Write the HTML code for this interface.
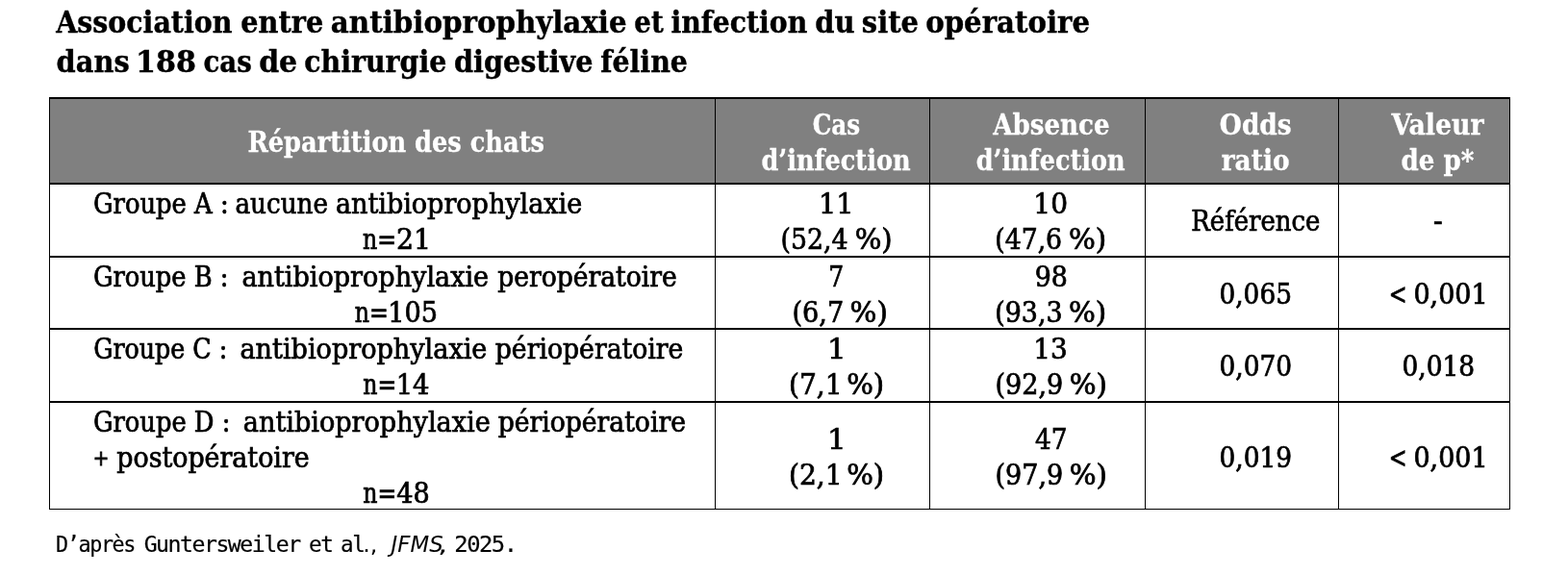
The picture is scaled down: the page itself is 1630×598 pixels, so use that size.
<!DOCTYPE html>
<html lang="fr">
<head>
<meta charset="utf-8">
<title>Association entre antibioprophylaxie et infection du site opératoire</title>
<style>
*{box-sizing:border-box;margin:0;padding:0}
html,body{width:1630px;height:598px;background:#fff;overflow:hidden}
body{position:relative;padding:101px 0 0 51px;font-family:"DejaVu Serif Condensed","DejaVu Serif","Liberation Serif",serif;font-stretch:condensed;color:#000}
table{width:1519px;border-collapse:separate;border-spacing:0;table-layout:fixed}
th,td{border-left:1px solid #000;border-top:2px solid #000;padding:0;font-weight:normal}
th{background:#808080;height:89px}
th:last-child,td:last-child{border-right:1px solid #000}
tr.ra td{height:76px} tr.rb td{height:75px} tr.rc td{height:76px}
tr.rd td{height:113px;border-bottom:1px solid #000}
.t{position:absolute;white-space:pre;line-height:40px;transform-origin:0 0;display:block}
.tt{font-weight:bold;-webkit-text-stroke:0.4px}
.th{font-weight:bold;color:#fff;-webkit-text-stroke:0.3px}
.tb,.tn{-webkit-text-stroke:0.7px}
.tp{-webkit-text-stroke:0.8px}
.tf{font-family:"DejaVu Sans Mono","Liberation Mono",monospace;font-stretch:normal;letter-spacing:-1.5px;-webkit-text-stroke:0.2px}
.tfp{font-family:"DejaVu Sans","Liberation Sans",sans-serif;font-stretch:normal}
.tfi{font-family:"DejaVu Sans","Liberation Sans",sans-serif;font-style:italic;font-stretch:normal}
h1,p{font-size:inherit;font-weight:inherit;height:0}
</style>
</head>
<body>
<h1><span id="t1a" class="t tt" style="left:58px;top:3px;font-size:32.5px;transform:translate(0.18px,0.00px) scaleX(0.9729)">Association </span><span id="t1b" class="t tt" style="left:250px;top:3px;font-size:32.5px;transform:translate(0.32px,0.00px) scaleX(0.9824)">entre </span><span id="t1c" class="t tt" style="left:343px;top:3px;font-size:32.5px;transform:translate(0.85px,0.00px) scaleX(1.0020)">antibioprophylaxie </span><span id="t1d" class="t tt" style="left:659px;top:3px;font-size:32.5px;transform:translate(0.35px,0.00px) scaleX(0.9472)">et </span><span id="t1e" class="t tt" style="left:697px;top:3px;font-size:32.5px;transform:translate(0.43px,0.00px) scaleX(0.9664)">infection </span><span id="t1f" class="t tt" style="left:847px;top:3px;font-size:32.5px;transform:translate(0.16px,0.00px) scaleX(0.9900)">du </span><span id="t1g" class="t tt" style="left:895px;top:3px;font-size:32.5px;transform:translate(0.86px,0.00px) scaleX(0.9913)">site </span><span id="t1h" class="t tt" style="left:962px;top:3px;font-size:32.5px;transform:translate(0.15px,0.00px) scaleX(0.9994)">opératoire</span>
<span id="t2a" class="t tt" style="left:58px;top:44px;font-size:32.5px;transform:translate(0.51px,0.00px) scaleX(0.9873)">dans </span><span id="t2b" class="t tt" style="left:141px;top:44px;font-size:32.5px;transform:translate(0.05px,0.00px) scaleX(1.0294)">188 </span><span id="t2c" class="t tt" style="left:211px;top:44px;font-size:32.5px;transform:translate(0.40px,0.00px) scaleX(0.9463)">cas </span><span id="t2d" class="t tt" style="left:269px;top:44px;font-size:32.5px;transform:translate(0.13px,0.00px) scaleX(1.0244)">de </span><span id="t2e" class="t tt" style="left:316px;top:44px;font-size:32.5px;transform:translate(0.23px,0.00px) scaleX(0.9714)">chirurgie </span><span id="t2f" class="t tt" style="left:472px;top:44px;font-size:32.5px;transform:translate(0.02px,0.00px) scaleX(0.9807)">digestive </span><span id="t2g" class="t tt" style="left:624px;top:44px;font-size:32.5px;transform:translate(0.27px,0.00px) scaleX(0.9715)">féline</span></h1>
<table>
<colgroup><col style="width:692px"><col style="width:223px"><col style="width:224px"><col style="width:201px"><col style="width:179px"></colgroup>
<thead><tr><th><span id="h1" class="t th" style="left:257px;top:128px;font-size:29.8px;transform:translate(0.45px,0.00px) scaleX(0.9572)">Répartition des chats</span></th><th><span id="h2a" class="t th" style="left:844px;top:110px;font-size:29.8px;transform:translate(0.71px,0.00px) scaleX(0.9212)">Cas</span>
<span id="h2b" class="t th" style="left:791px;top:147px;font-size:29.8px;transform:translate(0.39px,0.00px) scaleX(0.9544)">d’infection</span></th><th><span id="h3a" class="t th" style="left:1032px;top:110px;font-size:29.8px;transform:translate(0.19px,0.00px) scaleX(0.9750)">Absence</span>
<span id="h3b" class="t th" style="left:1014px;top:147px;font-size:29.8px;transform:translate(0.69px,0.00px) scaleX(0.9525)">d’infection</span></th><th><span id="h4a" class="t th" style="left:1267px;top:110px;font-size:29.8px;transform:translate(0.87px,0.00px) scaleX(0.9853)">Odds</span>
<span id="h4b" class="t th" style="left:1269px;top:147px;font-size:29.8px;transform:translate(0.71px,0.00px) scaleX(0.9844)">ratio</span></th><th><span id="h5a" class="t th" style="left:1446px;top:110px;font-size:29.8px;transform:translate(0.40px,0.00px) scaleX(1.0000)">Valeur</span>
<span id="h5b" class="t th" style="left:1456px;top:147px;font-size:29.8px;transform:translate(0.53px,0.00px) scaleX(0.9732)">de p*</span></th></tr></thead>
<tbody>
<tr class="ra"><td><span id="a1a1" class="t tb" style="left:96px;top:192px;font-size:29px;transform:translate(0.91px,0.00px) scaleX(0.9895)">Groupe A : </span><span id="a1a2" class="t tb" style="left:244px;top:192px;font-size:29px;transform:translate(0.49px,0.00px) scaleX(1.0053)">aucune </span><span id="a1a3" class="t tb" style="left:348px;top:192px;font-size:29px;transform:translate(0.92px,0.00px) scaleX(1.0357)">antibioprophylaxie</span>
<span id="a1b1" class="t tb" style="left:377px;top:229px;font-size:29px;transform:translate(0.10px,0.00px) scaleX(0.9049)">n=</span><span id="a1b2" class="t tn" style="left:411px;top:229px;font-size:29.6px;transform:translate(0.91px,0.00px) scaleX(1.0655)">21</span></td><td><span id="a2a" class="t tn" style="left:850px;top:192px;font-size:29.6px;transform:translate(0.92px,0.00px) scaleX(1.0782)">11</span>
<span id="a2bn" class="t tn" style="left:811px;top:229px;font-size:29.6px;transform:translate(0.54px,0.00px) scaleX(1.0030)">(52,4 </span><span id="a2bp" class="t tn" style="left:888px;top:229px;font-size:29.6px;transform:translate(0.75px,0.00px) scaleX(1.0916)">%)</span></td><td><span id="a3a" class="t tn" style="left:1074px;top:192px;font-size:29.6px;transform:translate(0.36px,0.00px) scaleX(1.0522)">10</span>
<span id="a3bn" class="t tn" style="left:1034px;top:229px;font-size:29.6px;transform:translate(0.24px,0.00px) scaleX(1.0030)">(47,6 </span><span id="a3bp" class="t tn" style="left:1110px;top:229px;font-size:29.6px;transform:translate(0.94px,0.00px) scaleX(1.0985)">%)</span></td><td><span id="a4" class="t tb" style="left:1238px;top:210px;font-size:29px;transform:translate(0.36px,0.00px) scaleX(0.9932)">Référence</span></td><td><span id="a5" class="t tb" style="left:1489px;top:210px;font-size:29px;transform:translate(0.88px,0.00px) scaleX(1.0969)">-</span></td></tr>
<tr class="rb"><td><span id="b1a1" class="t tb" style="left:96px;top:268px;font-size:29px;transform:translate(0.92px,0.00px) scaleX(0.9859)">Groupe B :  </span><span id="b1a2" class="t tb" style="left:251px;top:268px;font-size:29px;transform:translate(0.41px,0.00px) scaleX(1.0375)">antibioprophylaxie </span><span id="b1a3" class="t tb" style="left:517px;top:268px;font-size:29px;transform:translate(0.25px,0.00px) scaleX(1.0198)">peropératoire</span>
<span id="b1b1" class="t tb" style="left:368px;top:305px;font-size:29px;transform:translate(0.74px,0.00px) scaleX(0.9049)">n=</span><span id="b1b2" class="t tn" style="left:403px;top:305px;font-size:29.6px;transform:translate(0.20px,0.00px) scaleX(1.0194)">105</span></td><td><span id="b2a" class="t tn" style="left:861px;top:268px;font-size:29.6px;transform:translate(0.35px,0.00px) scaleX(0.9419)">7</span>
<span id="b2bn" class="t tn" style="left:823px;top:305px;font-size:29.6px;transform:translate(0.52px,0.00px) scaleX(1.0182)">(6,7 </span><span id="b2bp" class="t tn" style="left:883px;top:305px;font-size:29.6px;transform:translate(0.58px,0.00px) scaleX(1.0992)">%)</span></td><td><span id="b3a" class="t tn" style="left:1075px;top:268px;font-size:29.6px;transform:translate(0.75px,0.00px) scaleX(1.0096)">98</span>
<span id="b3bn" class="t tn" style="left:1034px;top:305px;font-size:29.6px;transform:translate(0.23px,0.00px) scaleX(1.0106)">(93,3 </span><span id="b3bp" class="t tn" style="left:1110px;top:305px;font-size:29.6px;transform:translate(0.94px,0.00px) scaleX(1.0985)">%)</span></td><td><span id="b4" class="t tn" style="left:1267px;top:286px;font-size:29.6px;transform:translate(0.46px,0.00px) scaleX(0.9904)">0,065</span></td><td><span id="b5a" class="t tn" style="left:1443px;top:286px;font-size:29.6px;transform:translate(0.71px,0.00px) scaleX(0.8431)">&lt; </span><span id="b5b" class="t tn" style="left:1469px;top:286px;font-size:29.6px;transform:translate(0.42px,0.00px) scaleX(1.0140)">0,001</span></td></tr>
<tr class="rc"><td><span id="c1a1" class="t tb" style="left:97px;top:343px;font-size:29px;transform:translate(0.18px,0.00px) scaleX(0.9711)">Groupe C :  </span><span id="c1a2" class="t tb" style="left:249px;top:343px;font-size:29px;transform:translate(0.46px,0.00px) scaleX(1.0385)">antibioprophylaxie </span><span id="c1a3" class="t tb" style="left:514px;top:343px;font-size:29px;transform:translate(0.79px,0.00px) scaleX(1.0229)">périopératoire</span>
<span id="c1b1" class="t tb" style="left:377px;top:380px;font-size:29px;transform:translate(0.25px,0.00px) scaleX(0.9035)">n=</span><span id="c1b2" class="t tn" style="left:411px;top:380px;font-size:29.6px;transform:translate(0.67px,0.00px) scaleX(1.0266)">14</span></td><td><span id="c2a" class="t tn" style="left:860px;top:343px;font-size:29.6px;transform:translate(0.07px,0.00px) scaleX(1.1583)">1</span>
<span id="c2bn" class="t tn" style="left:819px;top:380px;font-size:29.6px;transform:translate(0.94px,0.00px) scaleX(1.0569)">(7,1 </span><span id="c2bp" class="t tn" style="left:880px;top:380px;font-size:29.6px;transform:translate(0.25px,0.00px) scaleX(1.0916)">%)</span></td><td><span id="c3a" class="t tn" style="left:1074px;top:343px;font-size:29.6px;transform:translate(0.18px,0.00px) scaleX(1.0475)">13</span>
<span id="c3bn" class="t tn" style="left:1034px;top:380px;font-size:29.6px;transform:translate(0.58px,0.00px) scaleX(1.0143)">(92,9 </span><span id="c3bp" class="t tn" style="left:1111px;top:380px;font-size:29.6px;transform:translate(0.79px,0.00px) scaleX(1.0992)">%)</span></td><td><span id="c4" class="t tn" style="left:1267px;top:361px;font-size:29.6px;transform:translate(0.46px,0.00px) scaleX(0.9924)">0,070</span></td><td><span id="c5" class="t tn" style="left:1457px;top:361px;font-size:29.6px;transform:translate(0.46px,0.00px) scaleX(0.9924)">0,018</span></td></tr>
<tr class="rd"><td><span id="d1a1" class="t tb" style="left:96px;top:419px;font-size:29px;transform:translate(0.92px,0.00px) scaleX(0.9873)">Groupe D :  </span><span id="d1a2" class="t tb" style="left:252px;top:419px;font-size:29px;transform:translate(0.82px,0.00px) scaleX(1.0382)">antibioprophylaxie </span><span id="d1a3" class="t tb" style="left:517px;top:419px;font-size:29px;transform:translate(0.64px,0.00px) scaleX(1.0211)">périopératoire</span>
<span id="d1b1" class="t tp" style="left:96px;top:457px;font-size:21.7px;transform:translate(0.82px,0.00px) scaleX(1.0118)">+ </span><span id="d1b2" class="t tb" style="left:121px;top:456px;font-size:29px;transform:translate(0.29px,0.00px) scaleX(1.0300)">postopératoire</span>
<span id="d1c1" class="t tb" style="left:377px;top:493px;font-size:29px;transform:translate(0.25px,0.00px) scaleX(0.9035)">n=</span><span id="d1c2" class="t tn" style="left:412px;top:493px;font-size:29.6px;transform:translate(0.30px,0.00px) scaleX(1.0171)">48</span></td><td><span id="d2a" class="t tn" style="left:860px;top:437px;font-size:29.6px;transform:translate(0.07px,0.00px) scaleX(1.1583)">1</span>
<span id="d2bn" class="t tn" style="left:819px;top:474px;font-size:29.6px;transform:translate(0.94px,0.00px) scaleX(1.0569)">(2,1 </span><span id="d2bp" class="t tn" style="left:880px;top:474px;font-size:29.6px;transform:translate(0.25px,0.00px) scaleX(1.0916)">%)</span></td><td><span id="d3a" class="t tn" style="left:1076px;top:437px;font-size:29.6px;transform:translate(0.00px,0.00px) scaleX(0.9921)">47</span>
<span id="d3bn" class="t tn" style="left:1034px;top:474px;font-size:29.6px;transform:translate(0.58px,0.00px) scaleX(1.0143)">(97,9 </span><span id="d3bp" class="t tn" style="left:1111px;top:474px;font-size:29.6px;transform:translate(0.79px,0.00px) scaleX(1.0992)">%)</span></td><td><span id="d4" class="t tn" style="left:1267px;top:456px;font-size:29.6px;transform:translate(0.46px,0.00px) scaleX(0.9924)">0,019</span></td><td><span id="d5a" class="t tn" style="left:1443px;top:456px;font-size:29.6px;transform:translate(0.71px,0.00px) scaleX(0.8431)">&lt; </span><span id="d5b" class="t tn" style="left:1469px;top:456px;font-size:29.6px;transform:translate(0.42px,0.00px) scaleX(1.0140)">0,001</span></td></tr>
</tbody></table>
<p><span id="f1a" class="t tf" style="left:58px;top:546px;font-size:23.4px;transform:translate(0.11px,0.00px) scaleX(0.9296)">D’après </span><span id="f1b" class="t tf" style="left:149px;top:546px;font-size:23.4px;transform:translate(0.66px,0.00px) scaleX(0.9902)">Guntersweiler </span><span id="f1c" class="t tf" style="left:320px;top:546px;font-size:23.4px;transform:translate(0.94px,0.00px) scaleX(0.9720)">et </span><span id="f1d" class="t tf" style="left:354px;top:546px;font-size:23.4px;transform:translate(0.01px,0.00px) scaleX(0.9653)">al</span><span id="f1e" class="t tfp" style="left:377px;top:546px;font-size:23.4px;transform:translate(0.26px,0.00px) scaleX(1.0153)">., </span><span id="f2" class="t tfi" style="left:406px;top:546px;font-size:23.4px;transform:translate(0.61px,0.00px) scaleX(0.9752)">JFMS</span><span id="f3a" class="t tfp" style="left:455px;top:546px;font-size:23.4px;transform:translate(0.11px,0.00px) scaleX(1.3776)">, </span><span id="f3b" class="t tf" style="left:472px;top:546px;font-size:23.4px;transform:translate(0.37px,0.00px) scaleX(1.0200)">2025.</span></p>
</body>
</html>
